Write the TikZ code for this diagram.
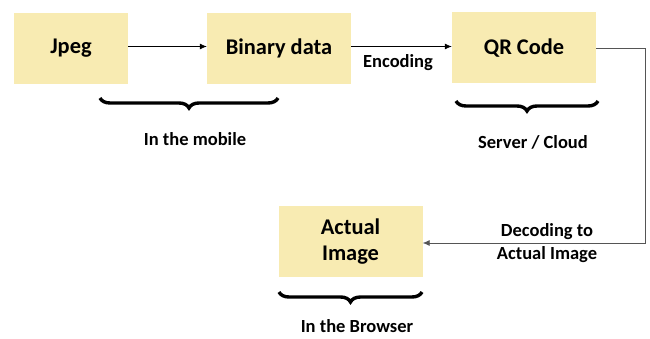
\documentclass[tikz,border=0pt]{standalone}
\usepackage{fontspec}
\setmainfont{Carlito}
\usetikzlibrary{arrows.meta,decorations.pathreplacing}
\definecolor{boxfill}{HTML}{F8EBB2}
\definecolor{linegray}{HTML}{555555}
\tikzset{
  stagebox/.style={fill=boxfill, draw=none, minimum width=#1, minimum height=71pt,
    inner sep=0pt, font=\bfseries\fontsize{22.4}{26}\selectfont, align=center},
  stagebox/.default=144pt,
  note/.style={font=\bfseries\fontsize{18.5}{23}\selectfont, align=center, inner sep=0pt},
  flow/.style={draw=black, line width=0.7pt, -{Latex[length=7pt,width=6pt]}},
  bracket/.style={decorate, decoration={brace, amplitude=10pt, mirror}, line width=3.4pt}
}
\begin{document}
\begin{tikzpicture}[x=1pt,y=-1pt]
  \useasboundingbox (0,0) rectangle (650,339);

  % stages
  \node[stagebox=114pt] (jpeg)   at (71,48.5)  {Jpeg};
  \node[stagebox]       (binary) at (279,48.5) {Binary data};
  \node[stagebox]       (qr)     at (524,48)   {QR Code};
  \node[stagebox]       (image)  at (350.5,241.5) {Actual\\Image};

  % connectors
  \draw[flow] (jpeg.east |- 0,46.5) -- (binary.west |- 0,46.5);
  \draw[flow] (binary.east |- 0,46.5) -- (qr.west |- 0,46.5);
  \coordinate (turnA) at (645,48);
  \coordinate (turnB) at (645,243);
  \draw[flow, draw=linegray] (qr.east |- turnA) -- (turnA) -- (turnB) -- (image.east |- turnB);

  % connector labels
  \node[note] (enc) at (398,63) {Encoding};
  \node[note] (dec) at (547,243) {Decoding to\\Actual Image};

  % grouping braces
  \coordinate (mA) at (100,98);  \coordinate (mB) at (278,98);
  \coordinate (sA) at (456,101); \coordinate (sB) at (598,101);
  \coordinate (bA) at (279,292); \coordinate (bB) at (422,292);
  \draw[bracket] (mA) -- (mB);
  \draw[bracket] (sA) -- (sB);
  \draw[bracket] (bA) -- (bB);

  \node[note] (mobile)  at (195,139) {In the mobile};
  \node[note] (server)  at (533,142) {Server / Cloud};
  \node[note] (browser) at (357,326) {In the Browser};
\end{tikzpicture}
\end{document}
